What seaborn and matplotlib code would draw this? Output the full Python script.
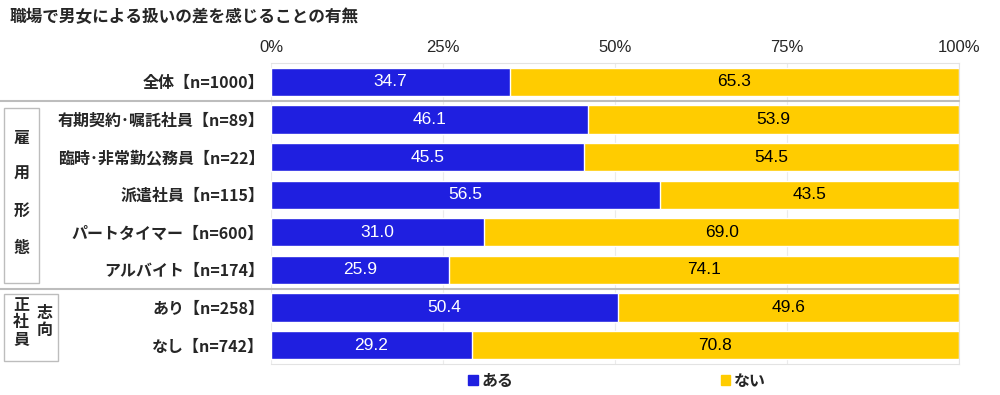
import matplotlib
matplotlib.use("Agg")
import matplotlib.pyplot as plt
from matplotlib.patches import Rectangle
import seaborn as sns
import pandas as pd

title = "職場で男女による扱いの差を感じることの有無"
categories = ["全体【n=1000】", "有期契約･嘱託社員【n=89】", "臨時･非常勤公務員【n=22】",
              "派遣社員【n=115】", "パートタイマー【n=600】", "アルバイト【n=174】",
              "あり【n=258】", "なし【n=742】"]
aru = [34.7, 46.1, 45.5, 56.5, 31.0, 25.9, 50.4, 29.2]
nai = [65.3, 53.9, 54.5, 43.5, 69.0, 74.1, 49.6, 70.8]
series_names = ["ある", "ない"]
xticks = [0, 25, 50, 75, 100]
xtick_labels = ["0%", "25%", "50%", "75%", "100%"]
group1 = "雇用形態"
group2a = "正社員"
group2b = "志向"

BLUE = "#1F1FE0"
YELLOW = "#FFCC00"

sns.set_theme(style="white")
plt.rcParams["font.family"] = ["Noto Sans CJK JP", "DejaVu Sans"]

df = pd.DataFrame({"cat": categories, "aru": aru, "nai": nai})
df["total"] = df["aru"] + df["nai"]

W, H = 1000, 395
fig = plt.figure(figsize=(10, 3.95), dpi=100)
ax = fig.add_axes([271 / W, 1 - 364 / H, (959 - 271) / W, (364 - 63) / H])

sns.barplot(data=df, y="cat", x="total", color=YELLOW, width=0.75, ax=ax,
            saturation=1, orient="h", zorder=2)
sns.barplot(data=df, y="cat", x="aru", color=BLUE, width=0.75, ax=ax,
            saturation=1, orient="h", zorder=3)

ax.set_xlim(0, 100)
ax.set_ylim(len(categories) - 0.5, -0.5)
ax.set_xlabel("")
ax.set_ylabel("")
ax.xaxis.tick_top()
ax.set_xticks(xticks)
ax.set_xticklabels(xtick_labels, fontsize=12, family=["Liberation Sans", "DejaVu Sans"])
ax.tick_params(axis="x", length=0, pad=6)
ax.tick_params(axis="y", length=0, pad=5)
for t in ax.get_yticklabels():
    t.set_fontweight("bold")
    t.set_fontsize(11.5)
ax.grid(axis="x", color="#EBEBEB", lw=0.8, zorder=0)
ax.set_axisbelow(True)
for s in ["top", "right", "bottom"]:
    ax.spines[s].set_color("#E3E3E3")
    ax.spines[s].set_linewidth(0.8)
ax.spines["left"].set_visible(False)

numfont = ["Liberation Sans", "DejaVu Sans"]
for i, (a, n) in enumerate(zip(aru, nai)):
    ax.text(a / 2, i, f"{a:.1f}", ha="center", va="center", color="white",
            fontsize=12.5, family=numfont, zorder=5)
    ax.text(a + n / 2, i, f"{n:.1f}", ha="center", va="center", color="black",
            fontsize=12.5, family=numfont, zorder=5)

# separator lines
x0 = -271 / (959 - 271)
for yb in [0.5, 5.5]:
    ax.axhline(yb, xmin=x0, xmax=1.0, color="#BDBDBD", lw=1.5, clip_on=False, zorder=4)

def px(x, y):
    return x / W, 1 - y / H

# group boxes
fig.patches.append(Rectangle(px(4, 283), 35 / W, (283 - 108) / H, transform=fig.transFigure,
                             fill=False, edgecolor="#BDBDBD", lw=1))
fig.patches.append(Rectangle(px(4, 361), 54 / W, (361 - 294) / H, transform=fig.transFigure,
                             fill=False, edgecolor="#BDBDBD", lw=1))
for ch, yy in zip(group1, [138, 174, 211, 248]):
    fig.text(*px(21.5, yy), ch, ha="center", va="center", fontsize=11.5, fontweight="bold")
for ch, yy in zip(group2a, [305, 322, 339]):
    fig.text(*px(21, yy), ch, ha="center", va="center", fontsize=11.5, fontweight="bold")
for ch, yy in zip(group2b, [313, 330]):
    fig.text(*px(45, yy), ch, ha="center", va="center", fontsize=11.5, fontweight="bold")

fig.text(*px(10, 17), title, ha="left", va="center", fontsize=12, fontweight="bold")

handles = [Rectangle((0, 0), 1, 1, color=BLUE), Rectangle((0, 0), 1, 1, color=YELLOW)]
fig.legend(handles, series_names, loc="center", bbox_to_anchor=px(617, 381), ncol=2,
           frameon=False, handlelength=0.6, handleheight=0.6, handletextpad=0.2,
           columnspacing=13, prop={"weight": "bold", "size": 11.5})

fig.savefig("out.png", dpi=100)
